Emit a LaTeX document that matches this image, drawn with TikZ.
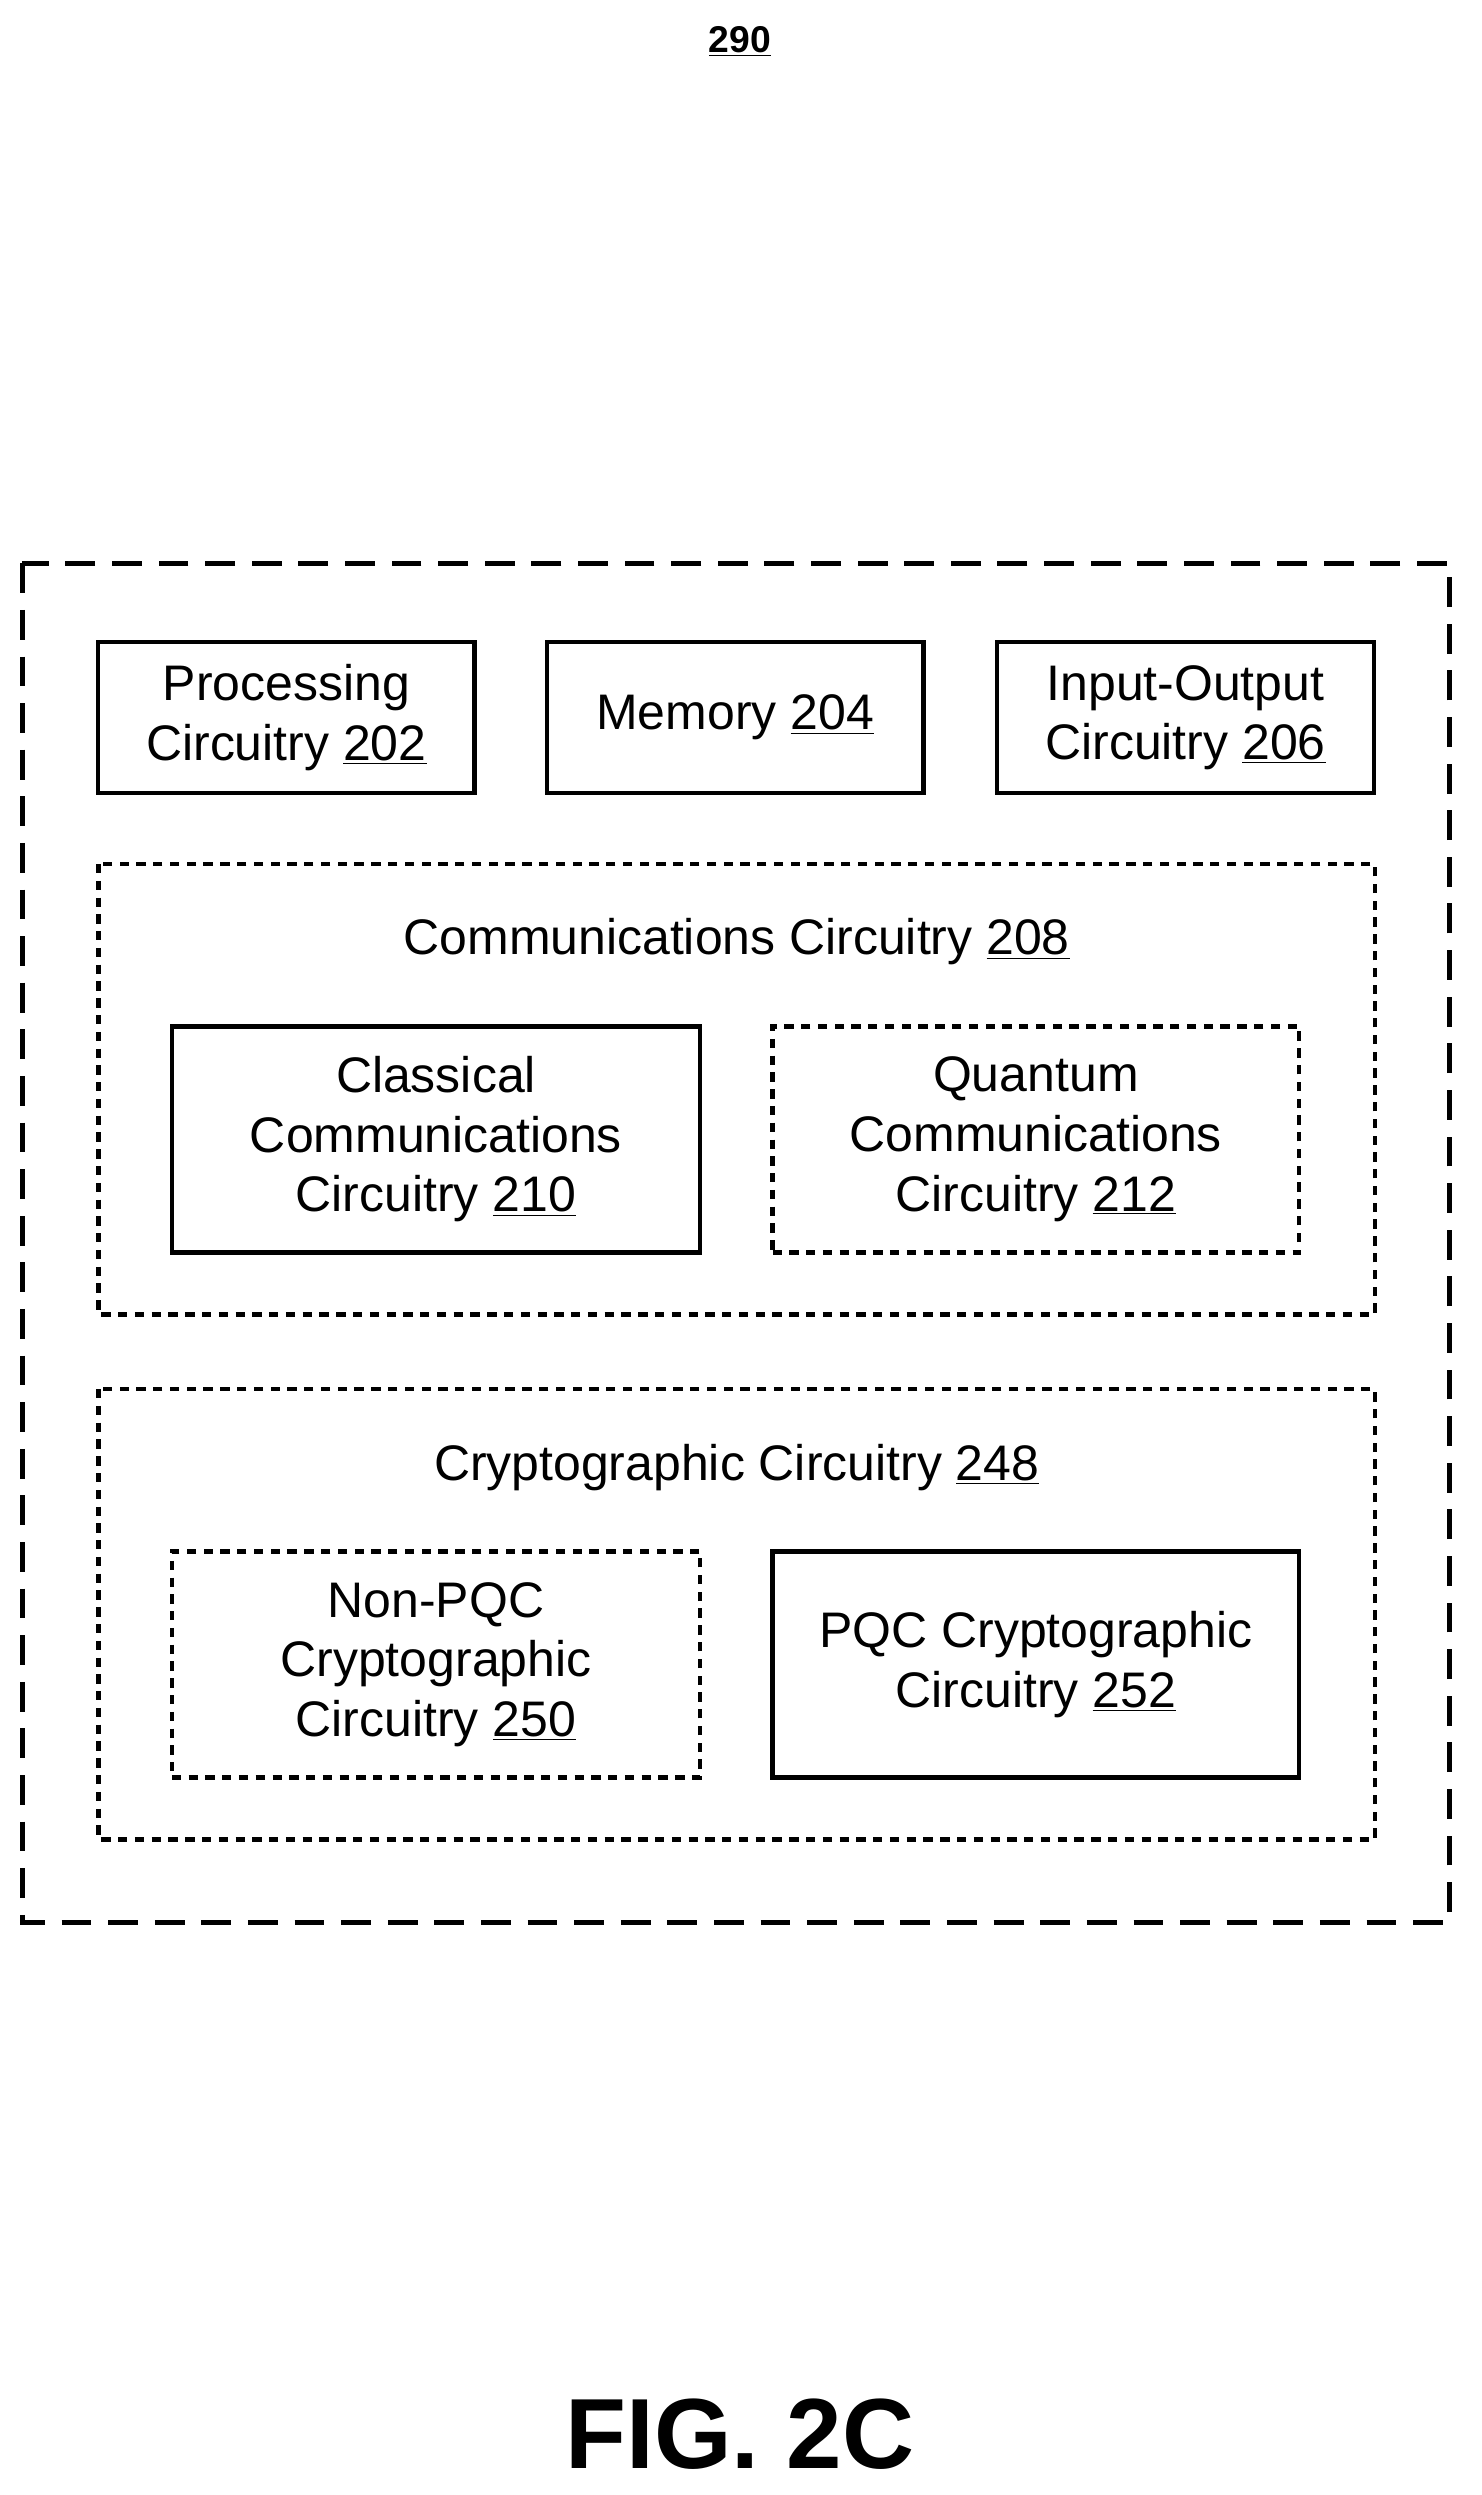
\documentclass[tikz,border=0pt]{standalone}
\usepackage{fontspec}
\setmainfont{Liberation Sans}
\usepackage{tikz}
\usetikzlibrary{positioning}

\tikzset{
	box/.style={draw, line width=2.4pt, align=center, font=\fontsize{26.8}{32}\selectfont,
		minimum width=7.1cm, minimum height=2.85cm, inner sep=0pt},
	dotbox/.style={box, dash pattern=on 5pt off 4pt},
	group/.style={draw, line width=2.4pt, dash pattern=on 5pt off 4pt},
	title/.style={font=\fontsize{26.8}{32}\selectfont},
}

\begin{document}
\begin{tikzpicture}[x=0.03cm, y=-0.03cm]
	\useasboundingbox (0,0) rectangle (931,1568);
	\node[font=\bfseries\fontsize{20}{24}\selectfont] (num) at (465,26) {\underline{290}};
	\draw[line width=2.6pt, dash pattern=on 16pt off 9pt] (14,354) rectangle (911,1208);
	% top row
	\node[box] (proc) at (180,451) {Processing\\Circuitry \underline{202}};
	\node[box] (mem) at (462,451) {Memory \underline{204}};
	\node[box] (io) at (745,451) {Input-Output\\Circuitry \underline{206}};
	% communications
	\draw[group] (62,543) rectangle (864,826);
	\node[title] (comm) at (463,592) {Communications Circuitry \underline{208}};
	\node[box, minimum width=9.96cm, minimum height=4.26cm] (class) at (274,716) {Classical\\Communications\\Circuitry \underline{210}};
	\node[dotbox, minimum width=9.93cm, minimum height=4.26cm] (quant) at (651,716) {Quantum\\Communications\\Circuitry \underline{212}};
	% cryptographic
	\draw[group] (62,873) rectangle (864,1156);
	\node[title] (crypt) at (463,922) {Cryptographic Circuitry \underline{248}};
	\node[dotbox, minimum width=9.96cm, minimum height=4.26cm] (nonpqc) at (274,1046) {Non-PQC\\Cryptographic\\Circuitry \underline{250}};
	\node[box, minimum width=9.93cm, minimum height=4.26cm] (pqc) at (651,1046) {PQC Cryptographic\\Circuitry \underline{252}};
	\node[font=\bfseries\fontsize{53.5}{60}\selectfont] (fig) at (465,1530) {FIG. 2C};
\end{tikzpicture}
\end{document}
